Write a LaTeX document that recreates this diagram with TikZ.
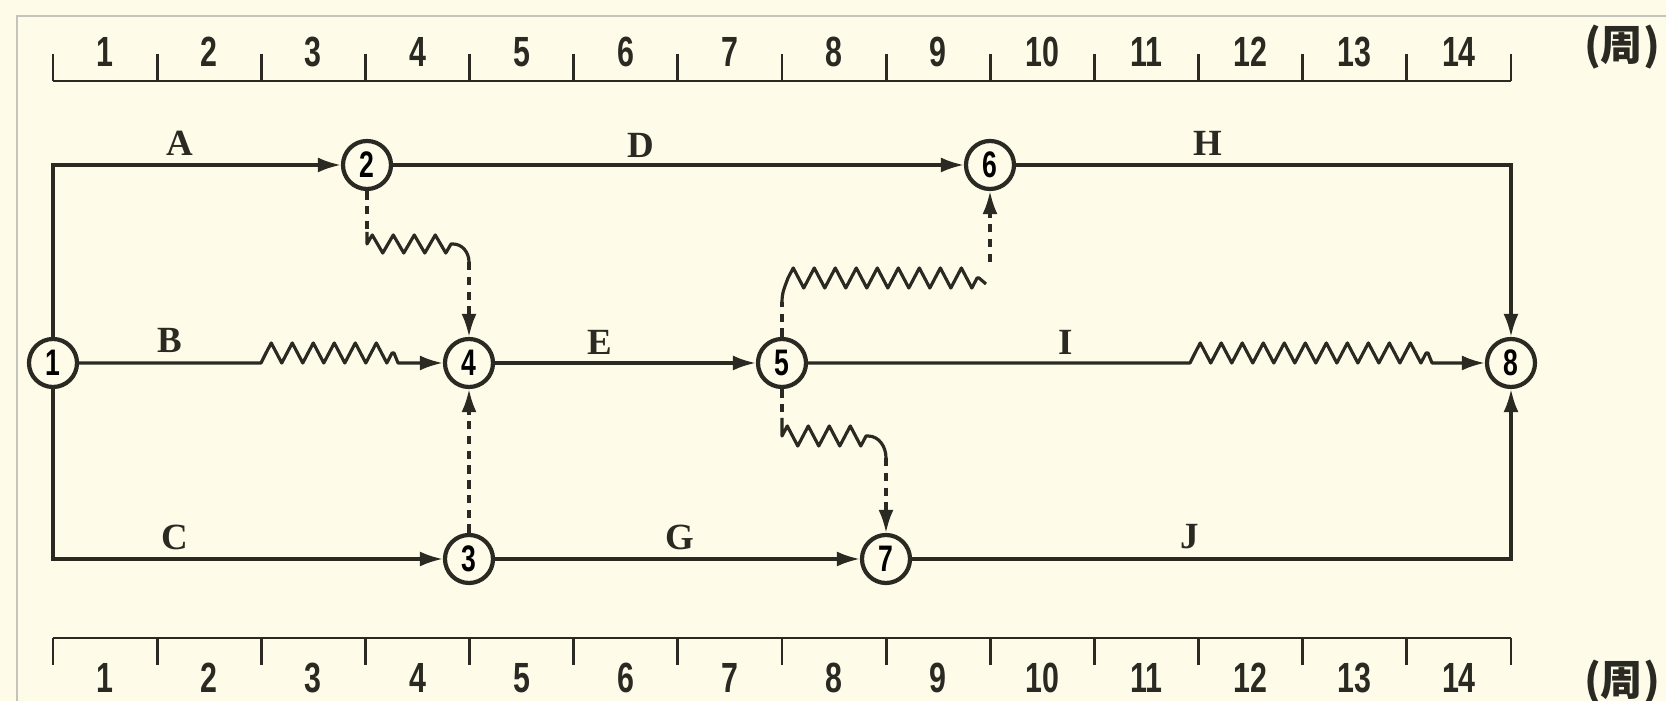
\documentclass[tikz,border=0pt]{standalone}
\usepackage{fontspec}
\setmainfont{Liberation Serif}
\newfontfamily\rulefont{Liberation Sans}[FakeStretch=0.72]
\newfontfamily\cjk{Noto Sans CJK SC}
\usetikzlibrary{arrows.meta,decorations.pathmorphing}
\definecolor{paper}{HTML}{FEFCE9}
\definecolor{ink}{HTML}{2A2922}
\definecolor{rim}{HTML}{C4C4BC}

\begin{document}
\begin{tikzpicture}[x=0.01cm,y=-0.01cm,
          event/.style={circle,draw=ink,line width=1.2pt,fill=paper,minimum size=4.8mm,inner sep=0pt,font=\rulefont\bfseries\fontsize{10.5}{10}\selectfont},
          act/.style={draw=ink,line width=0.9pt},
          arr/.style={-{Latex[length=2.3mm,width=1.5mm]}},
          dummy/.style={act,dash pattern=on 2.4pt off 1.8pt},
          wavy/.style={line join=round,decoration={zigzag,segment length=2.1mm,amplitude=#1}},
          wavy/.default=1mm,
          lbl/.style={font=\bfseries\fontsize{10.5}{11}\selectfont,text=ink},
          num/.style={font=\rulefont\bfseries\fontsize{12}{12}\selectfont,text=ink}
        ]
        \useasboundingbox (0,0) rectangle (1666,701);
        \fill[paper] (0,0) rectangle (1666,701);
        \draw[rim,line width=0.6pt] (1666,16) -- (17,16) -- (17,701);

        % time scales, top and bottom
        \draw[act,line width=0.8pt] (53,81) -- (1511,81);
        \draw[act,line width=0.8pt] (53,638) -- (1511,638);
        \foreach \k in {0,...,14} {
          \draw[act,line width=0.8pt] ({53+104.14*\k},54) -- ({53+104.14*\k},81);
          \draw[act,line width=0.8pt] ({53+104.14*\k},638) -- ({53+104.14*\k},665);
        }
        \foreach \k in {1,...,14} {
          \node[num] (t\k) at ({53+104.14*(\k-0.5)},52) {\k};
          \node[num] (b\k) at ({53+104.14*(\k-0.5)},678) {\k};
        }
        \node[num] (unitT) at (1622,47) {\cjk\bfseries(周)};
        \node[num] (unitB) at (1622,682) {\cjk\bfseries(周)};

        % events
        \node[event] (n1) at (53,363) {1};
        \node[event] (n2) at (367,165) {2};
        \node[event] (n3) at (469,559) {3};
        \node[event] (n4) at (469,363) {4};
        \node[event] (n5) at (782,363) {5};
        \node[event] (n6) at (990,165) {6};
        \node[event] (n7) at (886,559) {7};
        \node[event] (n8) at (1511,363) {8};

        % activities
        \draw[act,arr] (n1) |- (n2);
        \draw[act,arr] (n2) -- (n6);
        \draw[act,arr] (n6) -| (n8);
        \draw[act,arr,wavy] (n1) -- (261,363) -- (266,353) decorate{-- (394,353)} -- (398,363) -- (n4);
        \draw[act,arr] (n4) -- (n5);
        \draw[act,arr,wavy] (n5) -- (1190,363) -- (1195,353) decorate{-- (1428,353)} -- (1432,363) -- (n8);
        \draw[act,arr] (n1) |- (n3);
        \draw[act,arr] (n3) -- (n7);
        \draw[act,arr] (n7) -| (n8);

        % dummies with free float
        \coordinate (k24) at (469,262);
        \coordinate (k56) at (990,262);
        \coordinate (k57) at (886,458);
        \draw[dummy] (n2) -- (367,232);
        \draw[act,wavy=0.9mm] (367,232) -- (367,244) decorate{-- (453,244)} to[out=0,in=90] (k24);
        \draw[dummy,arr] (k24) -- (n4);
        \draw[dummy] (n5) -- (782,302);
        \draw[act,wavy] (782,302) to[out=90,in=-110] (788,278) decorate{-- (979,278)} -- (986,284);
        \draw[dummy,arr] (k56) -- (n6);
        \draw[dummy] (n5) -- (782,418);
        \draw[act,wavy] (782,418) -- (782,436) decorate{-- (868,436)} to[out=0,in=90] (k57);
        \draw[dummy,arr] (k57) -- (n7);
        \draw[dummy,arr] (n3) -- (n4);

        % activity names
        \node[lbl] (lA) at (180,143) {A};
        \node[lbl] (lD) at (641,145) {D};
        \node[lbl] (lH) at (1208,143) {H};
        \node[lbl] (lB) at (170,340) {B};
        \node[lbl] (lE) at (600,342) {E};
        \node[lbl] (lI) at (1066,342) {I};
        \node[lbl] (lC) at (175,537) {C};
        \node[lbl] (lG) at (680,537) {G};
        \node[lbl] (lJ) at (1190,537) {J};
      \end{tikzpicture}
\end{document}
